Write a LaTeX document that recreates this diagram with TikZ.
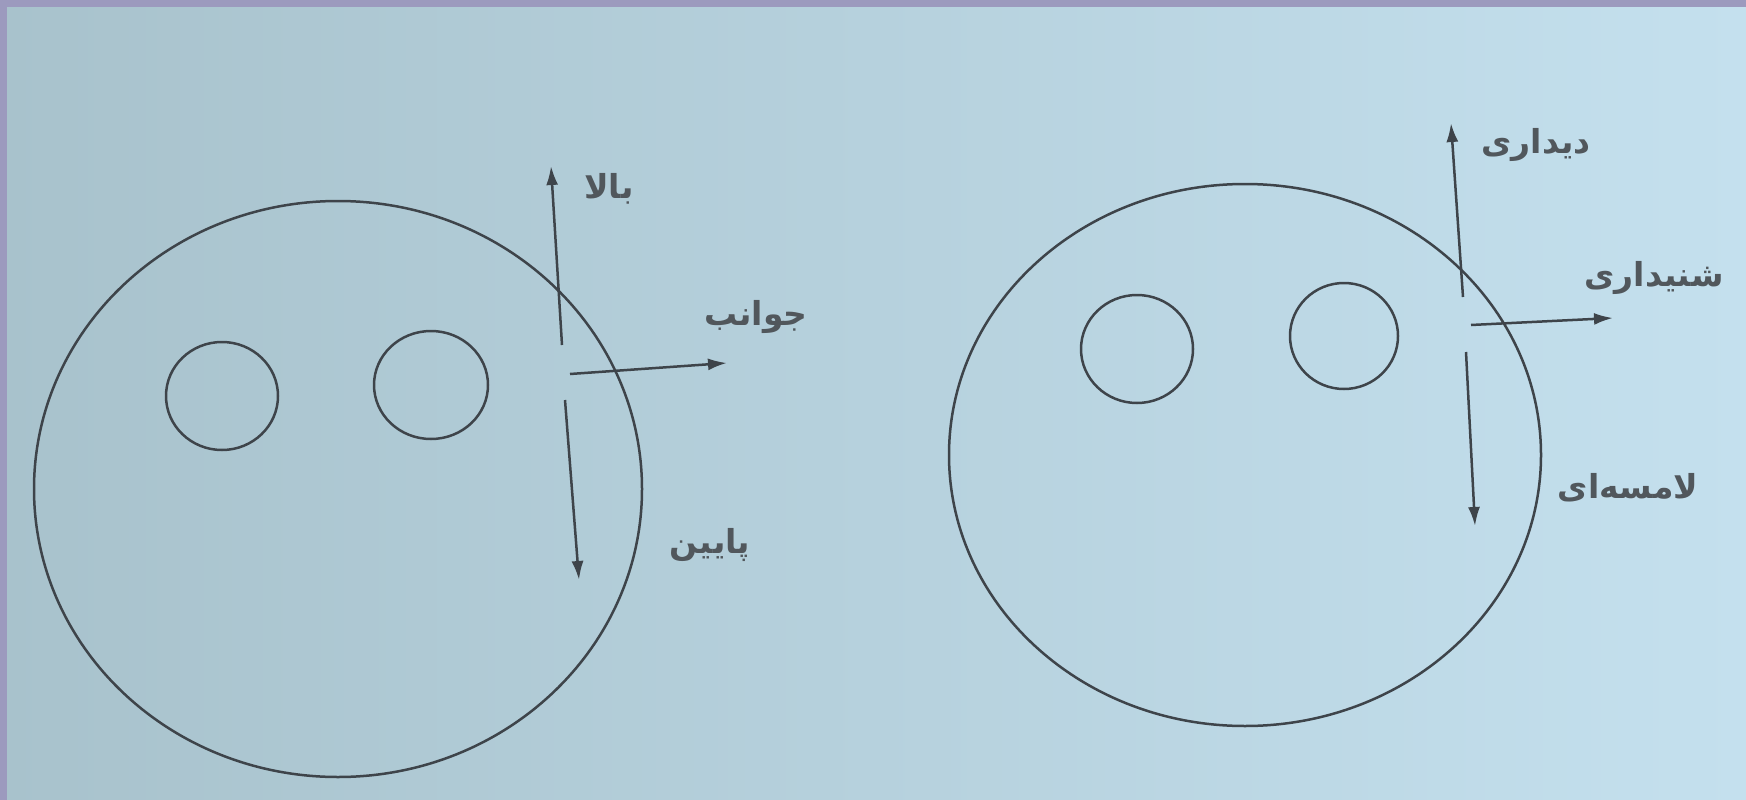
\documentclass[tikz,border=0pt]{standalone}
\usepackage{fontspec}
\usetikzlibrary{arrows.meta}
\TeXXeTstate=1
\newfontfamily\arabicfont[Script=Arabic]{DejaVu Sans}
\definecolor{ink}{RGB}{62,68,74}
\definecolor{paperL}{RGB}{168,194,204}
\definecolor{paperR}{RGB}{196,224,238}
\definecolor{frame}{RGB}{156,154,190}

\begin{document}
\begin{tikzpicture}[x=1pt, y=-1pt,
  ln/.style={draw=ink, line width=2.5pt},
  ar/.style={ln, -{Latex[length=19pt, width=12pt]}},
  lbl/.style={font=\arabicfont\bfseries\fontsize{33}{38}\selectfont, text=ink!90, inner sep=0pt}]

\useasboundingbox (0,0) rectangle (1746,800);
\shade[left color=paperL, right color=paperR] (0,0) rectangle (1746,800);
\fill[frame] (0,0) rectangle (1746,7);
\fill[frame] (0,0) rectangle (7,800);

% left face
\draw[ln] (338,489) ellipse [x radius=304, y radius=288];
\draw[ln] (222,396) ellipse [x radius=56, y radius=54];
\draw[ln] (431,385) ellipse [x radius=57, y radius=54];

\coordinate (lup0) at (562,345);
\coordinate (lup1) at (551,166);
\coordinate (lsd0) at (570,374);
\coordinate (lsd1) at (727,363);
\coordinate (ldn0) at (565,400);
\coordinate (ldn1) at (579,580);

\draw[ar] (lup0) -- (lup1);
\draw[ar] (lsd0) -- (lsd1);
\draw[ar] (ldn0) -- (ldn1);

\node[lbl] (bala) at (609,189) {\beginR بالا\endR};
\node[lbl] (javaneb) at (756,317) {\beginR جوانب\endR};
\node[lbl] (payin) at (710,545) {\beginR پایین\endR};

% right face
\draw[ln] (1245,455) ellipse [x radius=296, y radius=271];
\draw[ln] (1137,349) ellipse [x radius=56, y radius=54];
\draw[ln] (1344,336) ellipse [x radius=54, y radius=53];

\coordinate (rup0) at (1463,297);
\coordinate (rup1) at (1451,123);
\coordinate (rsd0) at (1471,325);
\coordinate (rsd1) at (1613,318);
\coordinate (rdn0) at (1466,352);
\coordinate (rdn1) at (1475,526);

\draw[ar] (rup0) -- (rup1);
\draw[ar] (rsd0) -- (rsd1);
\draw[ar] (rdn0) -- (rdn1);

\node[lbl] (didari) at (1536,145) {\beginR دیداری\endR};
\node[lbl] (shenidari) at (1654,278) {\beginR شنیداری\endR};
\node[lbl] (lamesei) at (1628,488) {\beginR لامسه‌ای\endR};
\end{tikzpicture}
\end{document}
